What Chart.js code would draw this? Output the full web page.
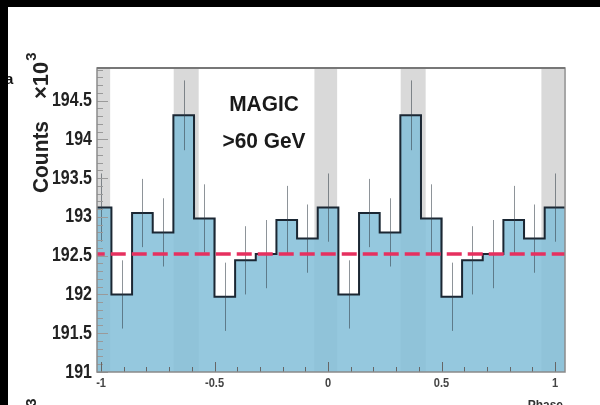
<!DOCTYPE html>
<html>
<head>
<meta charset="utf-8">
<script src="https://cdn.jsdelivr.net/npm/chart.js@4"></script>
<style>
  html, body { margin: 0; padding: 0; background: #000; }
  #wrap { position: absolute; left: 8px; top: 7px; width: 592px; height: 398px; background: #fff; }
</style>
</head>
<body>
<div id="wrap"><canvas id="grafica" width="592" height="398"></canvas></div>
<script>
// centros de los bins de fase (11 bins por periodo)
var fases = [-1.000, -0.909, -0.818, -0.727, -0.636, -0.545, -0.455, -0.364, -0.273, -0.182, -0.091,
             0.000, 0.091, 0.182, 0.273, 0.364, 0.455, 0.545, 0.636, 0.727, 0.818, 0.909, 1.000];
var anchoBin = 0.0909;

// cuentas en unidades de 10^3
var cuentas = [193.12, 192.00, 193.05, 192.80, 194.31, 192.98, 191.97, 192.44, 192.52, 192.96, 192.72,
               193.12, 192.00, 193.05, 192.80, 194.31, 192.98, 191.97, 192.44, 192.52, 192.96, 192.72,
               193.12];
var errores = [0.44, 0.44, 0.44, 0.44, 0.45, 0.44, 0.44, 0.44, 0.44, 0.44, 0.44,
               0.44, 0.44, 0.44, 0.44, 0.45, 0.44, 0.44, 0.44, 0.44, 0.44, 0.44,
               0.44];

var nivelFondo = 192.52;

// regiones P1 / P2 sombreadas
var bandas = [[-1.06, -0.96], [-0.68, -0.57], [-0.06, 0.04], [0.32, 0.43], [0.94, 1.04]];

var ticksX = [-1, -0.5, 0, 0.5, 1];
var ticksY = [191, 191.5, 192, 192.5, 193, 193.5, 194, 194.5];

// puntos del histograma (escalones)
var puntosHist = [];
for (var i = 0; i < fases.length; i++) {
    puntosHist.push({ x: fases[i] - anchoBin / 2, y: cuentas[i] });
    puntosHist.push({ x: fases[i] + anchoBin / 2, y: cuentas[i] });
}

var fuente = "'Liberation Sans', Arial, sans-serif";

// texto estrecho (la fuente narrow no esta instalada)
function textoEstrecho(ctx, txt, x, y, escala, alinear) {
    ctx.save();
    ctx.translate(x, y);
    ctx.scale(escala, 1);
    ctx.textAlign = alinear;
    ctx.fillText(txt, 0, 0);
    ctx.restore();
}

// bandas grises detras del histograma
const pluginBandas = {
    id: 'bandas',
    beforeDatasetsDraw(chart) {
        const ctx = chart.ctx, a = chart.chartArea, x = chart.scales.x;
        ctx.save();
        ctx.beginPath();
        ctx.rect(a.left, a.top, a.right - a.left, a.bottom - a.top);
        ctx.clip();
        ctx.fillStyle = '#d9d9d9';
        bandas.forEach(b => {
            const x0 = x.getPixelForValue(b[0]);
            const x1 = x.getPixelForValue(b[1]);
            ctx.fillRect(x0, a.top, x1 - x0, a.bottom - a.top);
        });
        ctx.restore();
    }
};

// barras de error sobre el histograma
const pluginErrores = {
    id: 'errores',
    afterDatasetDraw(chart, args) {
        if (args.index !== 1) return;
        const ctx = chart.ctx, x = chart.scales.x, y = chart.scales.y, a = chart.chartArea;
        ctx.save();
        ctx.beginPath();
        ctx.rect(a.left, a.top, a.right - a.left, a.bottom - a.top);
        ctx.clip();
        ctx.strokeStyle = 'rgba(50,60,70,0.55)';
        ctx.lineWidth = 1;
        for (let i = 0; i < fases.length; i++) {
            const px = Math.round(x.getPixelForValue(fases[i])) + 0.5;
            ctx.beginPath();
            ctx.moveTo(px, y.getPixelForValue(cuentas[i] + errores[i]));
            ctx.lineTo(px, y.getPixelForValue(cuentas[i] - errores[i]));
            ctx.stroke();
        }
        ctx.restore();
    }
};

// marco, ticks internos y textos
const pluginMarco = {
    id: 'marco',
    afterDraw(chart) {
        const ctx = chart.ctx, a = chart.chartArea, x = chart.scales.x, y = chart.scales.y;
        ctx.save();
        // ticks eje Y
        ctx.strokeStyle = '#9a9a9a';
        ctx.lineWidth = 1;
        for (let v = 191; v <= 194.9; v += 0.1) {
            const py = Math.round(y.getPixelForValue(v)) + 0.5;
            const mayor = Math.abs(v * 2 - Math.round(v * 2)) < 0.01;
            ctx.beginPath();
            ctx.moveTo(a.left, py);
            ctx.lineTo(a.left + (mayor ? 11 : 6), py);
            ctx.stroke();
        }
        // ticks eje X
        ctx.strokeStyle = '#666';
        for (let v = -1; v <= 1.001; v += 0.1) {
            const px = Math.round(x.getPixelForValue(v)) + 0.5;
            const mayor = Math.abs(v * 2 - Math.round(v * 2)) < 0.01;
            ctx.beginPath();
            ctx.moveTo(px, a.bottom);
            ctx.lineTo(px, a.bottom - (mayor ? 10 : 5));
            ctx.stroke();
        }
        // marco
        ctx.strokeStyle = '#8a8a8a';
        ctx.lineWidth = 1.5;
        ctx.strokeRect(a.left, a.top, a.right - a.left, a.bottom - a.top);
        ctx.strokeStyle = '#777';
        ctx.lineWidth = 2;
        ctx.beginPath();
        ctx.moveTo(a.left, a.top);
        ctx.lineTo(a.right, a.top);
        ctx.stroke();

        // etiquetas eje Y
        ctx.fillStyle = '#222';
        ctx.textBaseline = 'middle';
        ctx.font = 'bold 20px ' + fuente;
        ticksY.forEach(v => {
            textoEstrecho(ctx, String(v), a.left - 5, y.getPixelForValue(v), 0.8, 'right');
        });

        // etiquetas eje X
        ctx.fillStyle = '#444';
        ctx.textBaseline = 'top';
        ctx.font = 'bold 13px ' + fuente;
        ticksX.forEach(v => {
            textoEstrecho(ctx, String(v), x.getPixelForValue(v), a.bottom + 5, 0.85, 'center');
        });

        // texto MAGIC
        ctx.fillStyle = '#1a1a1a';
        ctx.textBaseline = 'alphabetic';
        ctx.font = 'bold 22px ' + fuente;
        textoEstrecho(ctx, 'MAGIC', 256, 104, 0.95, 'center');
        textoEstrecho(ctx, '>60 GeV', 256, 141, 0.95, 'center');

        // titulo eje Y
        ctx.save();
        ctx.translate(40, 150);
        ctx.rotate(-Math.PI / 2);
        ctx.font = 'bold 22px ' + fuente;
        ctx.fillStyle = '#222';
        ctx.scale(0.95, 1);
        ctx.textAlign = 'center';
        ctx.fillText('Counts', 0, 0);
        ctx.restore();

        // exponente x10^3 (arriba y el del panel siguiente abajo)
        [0, 346].forEach(dy => {
            ctx.save();
            ctx.translate(40, 92 + dy);
            ctx.rotate(-Math.PI / 2);
            ctx.font = 'bold 22px ' + fuente;
            ctx.fillStyle = '#222';
            ctx.textAlign = 'left';
            ctx.fillText('\u00d710', 0, 0);
            const w = ctx.measureText('\u00d710').width;
            ctx.font = 'bold 15px ' + fuente;
            ctx.fillText('3', w + 1, -12);
            ctx.restore();
        });

        // titulo eje X (cortado abajo)
        ctx.font = 'bold 12px ' + fuente;
        ctx.fillStyle = '#333';
        ctx.textAlign = 'right';
        ctx.fillText('Phase', 555, 402);

        // resto del panel vecino
        ctx.font = 'bold 15px ' + fuente;
        ctx.fillStyle = '#111';
        ctx.textAlign = 'left';
        ctx.fillText('a', -3, 77);
        ctx.restore();
    }
};

new Chart(document.getElementById('grafica'), {
    type: 'scatter',
    data: {
        datasets: [{
            label: 'Fondo',
            data: [{ x: -1.05, y: nivelFondo }, { x: 1.05, y: nivelFondo }],
            showLine: true,
            borderColor: '#e6305f',
            borderWidth: 3.5,
            borderDash: [15, 6],
            pointRadius: 0,
            fill: false
        }, {
            label: 'Cuentas',
            data: puntosHist,
            showLine: true,
            borderColor: '#1b2733',
            borderWidth: 2,
            backgroundColor: 'rgba(131,190,216,0.85)',
            pointRadius: 0,
            fill: 'start'
        }]
    },
    options: {
        responsive: false,
        animation: false,
        layout: { padding: { top: 61, right: 35, left: 0, bottom: 0 } },
        plugins: { legend: { display: false }, tooltip: { enabled: false } },
        scales: {
            x: {
                type: 'linear',
                min: -1.018,
                max: 1.044,
                grid: { display: false, drawTicks: false },
                border: { display: false },
                afterBuildTicks: s => { s.ticks = ticksX.map(v => ({ value: v })); },
                afterFit: s => { s.height = 33; },
                ticks: { display: false }
            },
            y: {
                type: 'linear',
                min: 191,
                max: 194.92,
                grid: { display: false, drawTicks: false },
                border: { display: false },
                afterBuildTicks: s => { s.ticks = ticksY.map(v => ({ value: v })); },
                afterFit: s => { s.width = 89; },
                ticks: { display: false }
            }
        }
    },
    plugins: [pluginBandas, pluginErrores, pluginMarco]
});
</script>
</body>
</html>
